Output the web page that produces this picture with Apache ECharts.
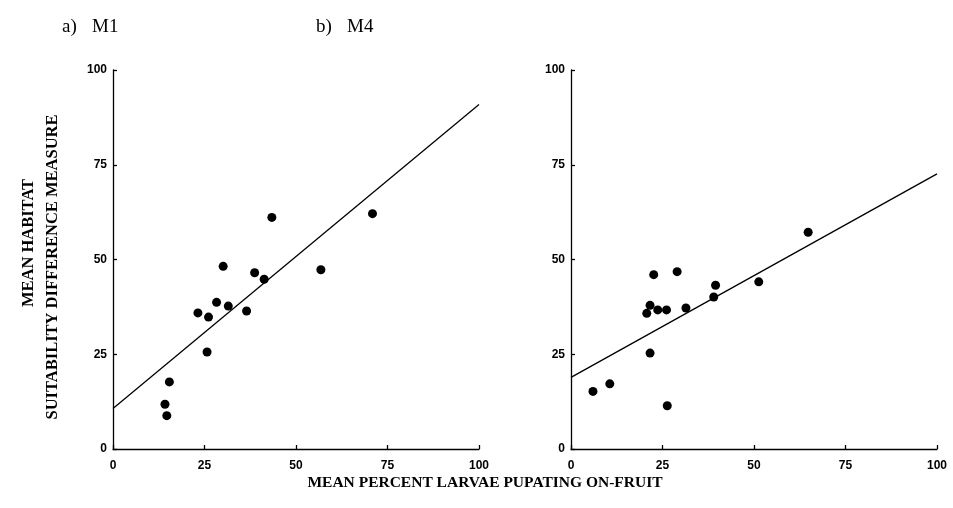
<!DOCTYPE html>
<html>
<head>
<meta charset="utf-8">
<script src="https://cdn.jsdelivr.net/npm/echarts@6/dist/echarts.min.js"></script>
<style>
html,body{margin:0;padding:0;background:#fff;}
#c{width:953px;height:508px;}
</style>
</head>
<body>
<div id="c"></div>
<script>
// Panel a) M1
var m1X = [14.2, 14.7, 15.4, 23.2, 25.7, 26.1, 28.3, 30.1, 31.5, 36.5, 38.7, 41.3, 43.4, 56.8, 70.9];
var m1Y = [11.8, 8.8, 17.7, 35.9, 25.6, 34.8, 38.7, 48.2, 37.7, 36.4, 46.5, 44.8, 61.1, 47.3, 62.1];
var m1LineX = [0, 100];
var m1LineY = [10.7, 90.9];
// Panel b) M4
var m4X = [6.0, 10.6, 20.7, 21.6, 21.6, 22.6, 23.7, 26.1, 26.3, 29.0, 31.4, 39.0, 39.5, 51.3, 64.8];
var m4Y = [15.2, 17.2, 35.8, 37.9, 25.3, 46.0, 36.7, 36.7, 11.4, 46.8, 37.2, 40.1, 43.2, 44.1, 57.2];
var m4LineX = [0, 100];
var m4LineY = [18.9, 72.6];
var tickValues = [0, 25, 50, 75, 100];
var panelTitles = ['a)', 'M1', 'b)', 'M4'];
var xTitle = 'MEAN PERCENT LARVAE PUPATING ON-FRUIT';
var yTitle1 = 'MEAN HABITAT';
var yTitle2 = 'SUITABILITY DIFFERENCE MEASURE';

function pairs(xs, ys) { return xs.map(function (x, i) { return [x, ys[i]]; }); }

var serif = '"Liberation Serif", "DejaVu Serif", serif';
var sans = '"Liberation Sans", Arial, sans-serif';

function axis(idx, margin) {
  return {
    type: 'value', gridIndex: idx, min: tickValues[0], max: tickValues[tickValues.length - 1], interval: tickValues[1] - tickValues[0],
    axisLine: { show: true, lineStyle: { color: '#000', width: 1.3 } },
    axisTick: { show: true, inside: true, length: 4, lineStyle: { color: '#000', width: 1.3 } },
    axisLabel: { color: '#000', fontFamily: sans, fontWeight: 'bold', fontSize: 12, margin: margin },
    splitLine: { show: false }
  };
}

var chart = echarts.init(document.getElementById('c'));
chart.setOption({
  backgroundColor: '#fff',
  animation: false,
  grid: [
    { left: 113, top: 70, width: 366, height: 379 },
    { left: 571, top: 70, width: 366, height: 379 }
  ],
  xAxis: [axis(0, 11), axis(1, 11)],
  yAxis: [axis(0, 6), axis(1, 6)],
  series: [
    { type: 'scatter', xAxisIndex: 0, yAxisIndex: 0, data: pairs(m1X, m1Y), symbol: 'circle', symbolSize: 9, itemStyle: { color: '#000', opacity: 1 } },
    { type: 'line', xAxisIndex: 0, yAxisIndex: 0, data: pairs(m1LineX, m1LineY), symbol: 'none', lineStyle: { color: '#000', width: 1.3 } },
    { type: 'scatter', xAxisIndex: 1, yAxisIndex: 1, data: pairs(m4X, m4Y), symbol: 'circle', symbolSize: 9, itemStyle: { color: '#000', opacity: 1 } },
    { type: 'line', xAxisIndex: 1, yAxisIndex: 1, data: pairs(m4LineX, m4LineY), symbol: 'none', lineStyle: { color: '#000', width: 1.3 } }
  ],
  graphic: [
    { type: 'text', left: 62, top: 18, style: { text: panelTitles[0], font: '19px ' + serif, fill: '#000' } },
    { type: 'text', left: 92, top: 18, style: { text: panelTitles[1], font: '19px ' + serif, fill: '#000' } },
    { type: 'text', left: 316, top: 18, style: { text: panelTitles[2], font: '19px ' + serif, fill: '#000' } },
    { type: 'text', left: 347, top: 18, style: { text: panelTitles[3], font: '19px ' + serif, fill: '#000' } },
    { type: 'text', x: 485, y: 483, style: { text: xTitle, font: 'bold 15.5px ' + serif, fill: '#000', align: 'center', verticalAlign: 'middle' } },
    { type: 'text', x: 29, y: 243, rotation: Math.PI / 2, style: { text: yTitle1, font: 'bold 16.5px ' + serif, fill: '#000', align: 'center', verticalAlign: 'middle' } },
    { type: 'text', x: 53, y: 267, rotation: Math.PI / 2, style: { text: yTitle2, font: 'bold 16.5px ' + serif, fill: '#000', align: 'center', verticalAlign: 'middle' } }
  ]
});
</script>
</body>
</html>
